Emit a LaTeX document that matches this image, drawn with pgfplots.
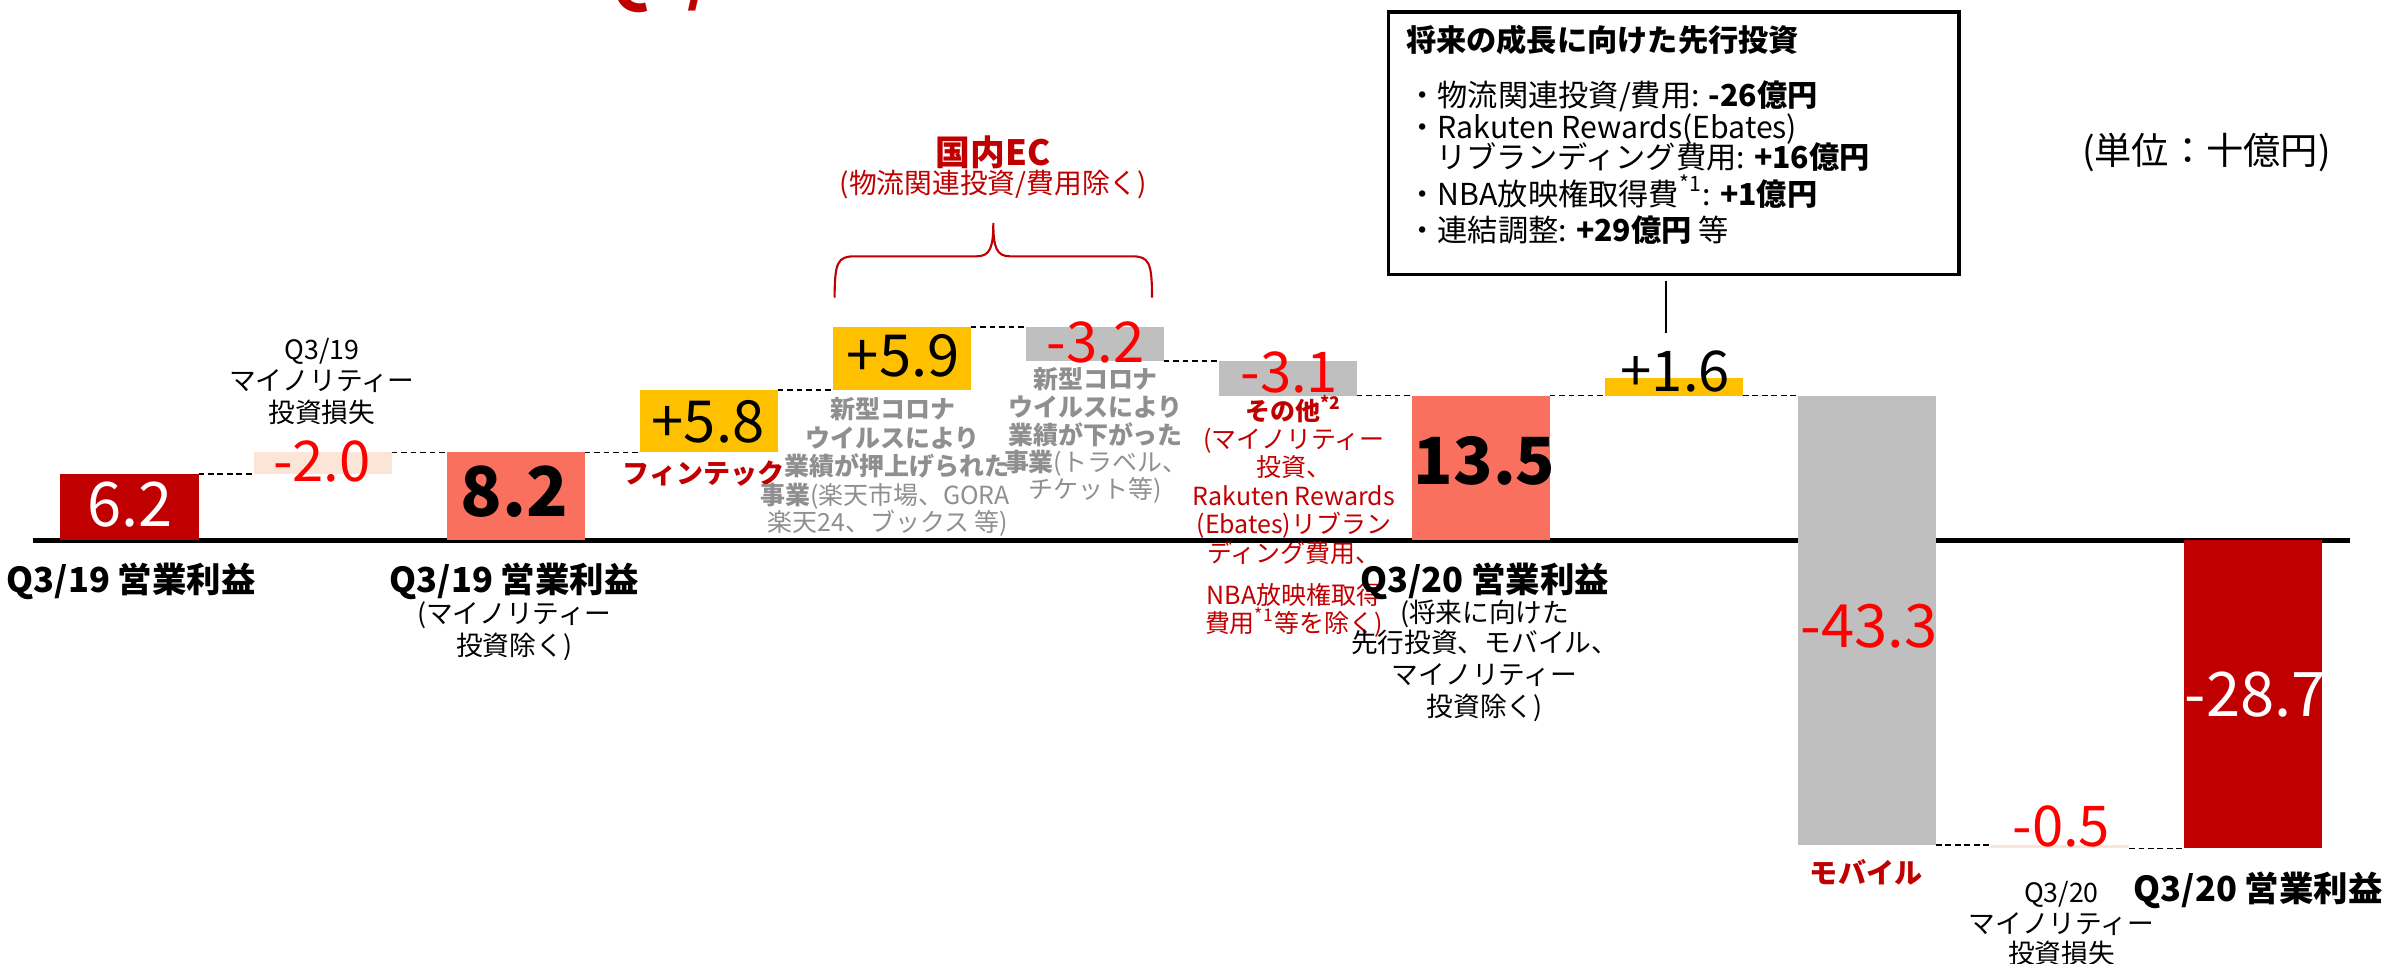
\documentclass[border=0pt]{standalone}
\usepackage{pgfplots}
\pgfplotsset{compat=1.18}
\usepackage{fontspec}
\setmainfont{Noto Sans CJK JP}
\definecolor{cDR}{HTML}{C00000}
\definecolor{cSal}{HTML}{F9705E}
\definecolor{cGold}{HTML}{FFC000}
\definecolor{cGrey}{HTML}{BFBFBF}
\definecolor{cPeach}{HTML}{FBE5D6}
\definecolor{cRed}{HTML}{FF0000}
\definecolor{cGT}{HTML}{8F8F8F}
\newcommand\fs[1]{\fontsize{#1}{#1}\selectfont}
\begin{document}
\begin{tikzpicture}
\begin{axis}[scale only axis, width=23.92cm, height=9.64cm,
  xmin=0.3292, xmax=12.7198, ymin=-39.47, ymax=50.37, hide axis, clip=false]
% zero line
\addplot[black, line width=1.2pt] coordinates {(0.5,0) (12.5,0)};
% bars (centre x, low, high)
\addplot[draw=none, fill=cDR]    coordinates {(0.6425,0) (1.3575,0) (1.3575,6.2) (0.6425,6.2)} -- cycle;
\addplot[draw=none, fill=cPeach] coordinates {(1.6425,6.2) (2.3575,6.2) (2.3575,8.2) (1.6425,8.2)} -- cycle;
\addplot[draw=none, fill=cSal]   coordinates {(2.6425,0) (3.3575,0) (3.3575,8.2) (2.6425,8.2)} -- cycle;
\addplot[draw=none, fill=cGold]  coordinates {(3.6425,8.2) (4.3575,8.2) (4.3575,14.0) (3.6425,14.0)} -- cycle;
\addplot[draw=none, fill=cGold]  coordinates {(4.6425,14.0) (5.3575,14.0) (5.3575,19.9) (4.6425,19.9)} -- cycle;
\addplot[draw=none, fill=cGrey]  coordinates {(5.6425,16.7) (6.3575,16.7) (6.3575,19.9) (5.6425,19.9)} -- cycle;
\addplot[draw=none, fill=cGrey]  coordinates {(6.6425,13.5) (7.3575,13.5) (7.3575,16.7) (6.6425,16.7)} -- cycle;
\addplot[draw=none, fill=cSal]   coordinates {(7.6425,0) (8.3575,0) (8.3575,13.5) (7.6425,13.5)} -- cycle;
\addplot[draw=none, fill=cGold]  coordinates {(8.6425,13.5) (9.3575,13.5) (9.3575,15.1) (8.6425,15.1)} -- cycle;
\addplot[draw=none, fill=cGrey]  coordinates {(9.6425,-28.4) (10.3575,-28.4) (10.3575,13.5) (9.6425,13.5)} -- cycle;
\addplot[draw=none, fill=cPeach] coordinates {(10.6425,-28.7) (11.3575,-28.7) (11.3575,-28.4) (10.6425,-28.4)} -- cycle;
\addplot[draw=none, fill=cDR]    coordinates {(11.6425,-28.7) (12.3575,-28.7) (12.3575,0) (11.6425,0)} -- cycle;
% connectors
\addplot[black, line width=0.5pt, dash pattern=on 1.6pt off 1.1pt] coordinates {(1.3575,6.2) (1.6425,6.2)};
\addplot[black, line width=0.5pt, dash pattern=on 1.6pt off 1.1pt] coordinates {(2.3575,8.2) (2.6425,8.2)};
\addplot[black, line width=0.5pt, dash pattern=on 1.6pt off 1.1pt] coordinates {(3.3575,8.2) (3.6425,8.2)};
\addplot[black, line width=0.5pt, dash pattern=on 1.6pt off 1.1pt] coordinates {(4.3575,14.0) (4.6425,14.0)};
\addplot[black, line width=0.5pt, dash pattern=on 1.6pt off 1.1pt] coordinates {(5.3575,19.9) (5.6425,19.9)};
\addplot[black, line width=0.5pt, dash pattern=on 1.6pt off 1.1pt] coordinates {(6.3575,16.7) (6.6425,16.7)};
\addplot[black, line width=0.5pt, dash pattern=on 1.6pt off 1.1pt] coordinates {(7.3575,13.5) (7.6425,13.5)};
\addplot[black, line width=0.5pt, dash pattern=on 1.6pt off 1.1pt] coordinates {(8.3575,13.5) (8.6425,13.5)};
\addplot[black, line width=0.5pt, dash pattern=on 1.6pt off 1.1pt] coordinates {(9.3575,13.5) (9.6425,13.5)};
\addplot[black, line width=0.5pt, dash pattern=on 1.6pt off 1.1pt] coordinates {(10.3575,-28.4) (10.6425,-28.4)};
\addplot[black, line width=0.5pt, dash pattern=on 1.6pt off 1.1pt] coordinates {(11.3575,-28.7) (11.6425,-28.7)};
\end{axis}
\begin{scope}[x=0.0152551cm, y=-0.0152551cm, shift={(0,9.64cm)}, t/.style={anchor=base, inner sep=0pt}, l/.style={anchor=base west, inner sep=0pt}]
% cut-off title
\node[l, text=cDR, font=\bfseries\fs{18}] at (392,0) {Q3/20};
% value labels
\node[t, text=white, font=\fs{17.5}] at (85,344.8) {6.2};
\node[t, text=cRed, font=\fs{16}] at (211,315.5) {-2.0};
\node[t, font=\bfseries\fs{19.5}] at (337,338.5) {8.2};
\node[t, font=\fs{16.5}] at (464,290) {+5.8};
\node[t, font=\fs{16.5}] at (592,247) {+5.9};
\node[t, text=cRed, font=\fs{16}] at (718,237.5) {-3.2};
\node[t, text=cRed, font=\fs{16}] at (845,257) {-3.1};
\node[t, font=\bfseries\fs{18.5}] at (973,317.5) {13.5};
\node[t, font=\fs{16}] at (1098,256.5) {+1.6};
\node[t, text=cRed, font=\fs{17}] at (1225,424.4) {-43.3};
\node[t, text=cRed, font=\fs{16}] at (1351,554.5) {-0.5};
\node[t, text=white, font=\fs{17.5}] at (1478,469.8) {-28.7};
% category labels
\node[t, font=\bfseries\fs{9.8}] at (86,388.5) {Q3/19 営業利益};
\node[t, font=\bfseries\fs{9.8}] at (337,388.5) {Q3/19 営業利益};
\node[t, font=\fs{7.6}] at (337,408.7) {(マイノリティー};
\node[t, font=\fs{7.6}] at (337,429.7) {投資除く)};
\node[t, font=\fs{7.6}] at (211,235.7) {Q3/19};
\node[t, font=\fs{7.6}] at (211,255.7) {マイノリティー};
\node[t, font=\fs{7.6}] at (211,276.7) {投資損失};
\node[t, text=cDR, font=\bfseries\fs{7.7}] at (461,316.9) {フィンテック};
% grey block 1
\node[t, text=cGT, font=\bfseries\fs{7.1}] at (585,274.5) {新型コロナ};
\node[t, text=cGT, font=\bfseries\fs{7.1}] at (585,293.5) {ウイルスにより};
\node[t, text=cGT, font=\bfseries\fs{7.1}] at (588,311.5) {業績が押上げられた};
\node[t, text=cGT, font=\fs{7.1}] at (580,330.5) {\textbf{事業}(楽天市場、GORA};
\node[t, text=cGT, font=\fs{7.1}] at (582,348.5) {楽天24、ブックス 等)};
% grey block 2
\node[t, text=cGT, font=\bfseries\fs{7.1}] at (718,254.5) {新型コロナ};
\node[t, text=cGT, font=\bfseries\fs{7.1}] at (718,273) {ウイルスにより};
\node[t, text=cGT, font=\bfseries\fs{7.1}] at (718,291) {業績が下がった};
\node[t, text=cGT, font=\fs{7.1}] at (718,309) {\textbf{事業}(トラベル、};
\node[t, text=cGT, font=\fs{7.1}] at (718,327) {チケット等)};
% red block
\node[t, text=cDR, font=\bfseries\fs{7.1}] at (848,275.5) {その他\textsuperscript{*2}};
\node[t, text=cDR, font=\fs{7.1}] at (848,294) {(マイノリティー};
\node[t, text=cDR, font=\fs{7.1}] at (848,312) {投資、};
\node[t, text=cDR, font=\fs{7.1}] at (848,331.5) {Rakuten Rewards};
\node[t, text=cDR, font=\fs{7.1}] at (848,349.5) {(Ebates)リブラン};
\node[t, text=cDR, font=\fs{7.1}] at (848,368.5) {ディング費用、};
\node[t, text=cDR, font=\fs{7.1}] at (848,396.5) {NBA放映権取得};
\node[t, text=cDR, font=\fs{7.1}] at (848,414.5) {費用\textsuperscript{*1}等を除く)};
% Q3/20 labels
\node[t, font=\bfseries\fs{9.8}] at (973,388.5) {Q3/20 営業利益};
\node[t, font=\fs{7.6}] at (973,407.7) {(将来に向けた};
\node[t, font=\fs{7.6}] at (973,427.7) {先行投資、モバイル、};
\node[t, font=\fs{7.6}] at (973,448.7) {マイノリティー};
\node[t, font=\fs{7.6}] at (973,469.7) {投資除く)};
\node[t, text=cDR, font=\bfseries\fs{8}] at (1223,579.2) {モバイル};
\node[t, font=\fs{7.6}] at (1351,591.7) {Q3/20};
\node[t, font=\fs{7.6}] at (1351,611.7) {マイノリティー};
\node[t, font=\fs{7.6}] at (1351,631.7) {投資損失};
\node[t, font=\bfseries\fs{9.8}] at (1480,590.5) {Q3/20 営業利益};
% domestic EC brace
\node[t, text=cDR, font=\bfseries\fs{9.9}] at (651,108.7) {国内EC};
\node[t, text=cDR, font=\fs{7.9}] at (651,127) {(物流関連投資/費用除く)};
\draw[cDR, line width=0.6pt] (547,195) .. controls (547,172) and (549,168) .. (560,168) -- (640,168)
  .. controls (649,168) and (651,162) .. (651,146) .. controls (651,162) and (653,168) .. (662,168)
  -- (742,168) .. controls (753,168) and (755,172) .. (755,195);
% investment box
\draw[black, line width=1pt] (910,8) rectangle (1284,180);
\draw[black, line width=0.6pt] (1092,184) -- (1092,218);
\node[l, font=\bfseries\fs{8.6}] at (921,33.5) {将来の成長に向けた先行投資};
\node[l, font=\fs{8.6}] at (922,69.5) {・物流関連投資/費用: \textbf{-26億円}};
\node[l, font=\fs{8.6}] at (922,90.5) {・Rakuten Rewards(Ebates)};
\node[l, font=\fs{8.6}] at (941,110.5) {リブランディング費用: \textbf{+16億円}};
\node[l, font=\fs{8.6}] at (922,134.5) {・NBA放映権取得費\textsuperscript{*1}: \textbf{+1億円}};
\node[l, font=\fs{8.6}] at (922,158.5) {・連結調整: \textbf{+29億円} 等};
\node[t, font=\fs{10.6}] at (1446,108) {(単位：十億円)};
\end{scope}
\pgfresetboundingbox
\path (0,0) rectangle (23.92cm,9.64cm);
\end{tikzpicture}
\end{document}
